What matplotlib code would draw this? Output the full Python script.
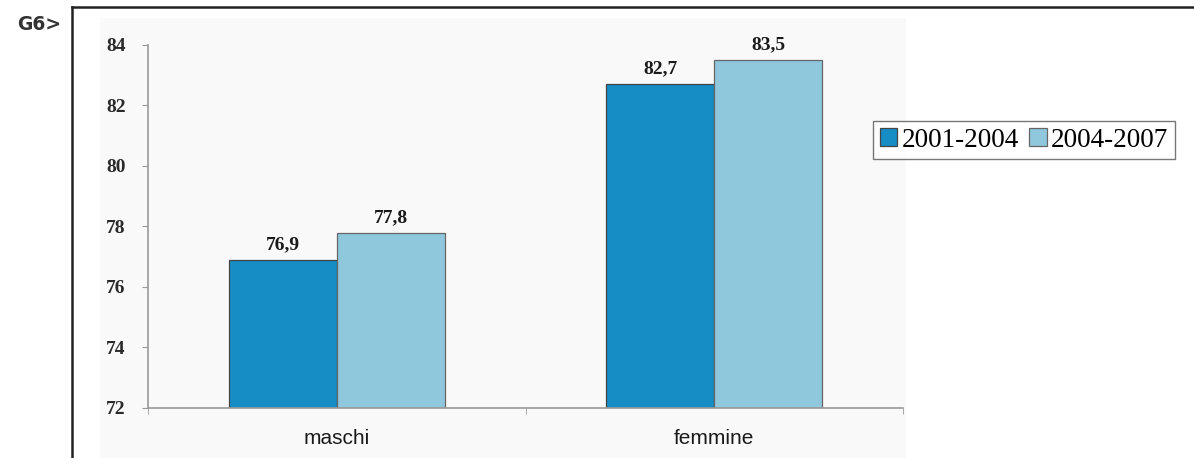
import matplotlib
matplotlib.use("Agg")
import matplotlib.pyplot as plt
import numpy as np
from matplotlib.lines import Line2D
from matplotlib.patches import Rectangle

# speranza di vita per sesso nei due periodi
categorie = ["maschi", "femmine"]
periodi = ["2001-2004", "2004-2007"]
val_2001_2004 = [76.9, 82.7]
val_2004_2007 = [77.8, 83.5]
y_ticks = [72, 74, 76, 78, 80, 82, 84]

col_scuro = "#168dc4"
col_chiaro = "#8fc7dc"
grigio = "#9a9a9a"

fig = plt.figure(figsize=(11.94, 4.58), dpi=100)

# sfondo grigio chiaro dietro al grafico
fig.add_artist(Rectangle((0.0838, 0.0), 0.675, 0.9607, transform=fig.transFigure,
                         facecolor="#f9f9f9", edgecolor="none", zorder=-5))
# cornice nera in alto e a sinistra
fig.add_artist(Line2D([0.0603, 1.0], [0.9847, 0.9847], transform=fig.transFigure,
                      color="#222222", lw=1.8))
fig.add_artist(Line2D([0.0603, 0.0603], [0.0, 0.9847], transform=fig.transFigure,
                      color="#222222", lw=1.8))
fig.text(0.014, 0.935, "G6>", fontsize=13.5, fontweight="bold", color="#333333",
         family="DejaVu Sans")

ax = fig.add_axes([0.1240, 0.1092, 0.6323, 0.7926])
ax.patch.set_alpha(0)

x = np.arange(len(categorie))
w = 0.286
b1 = ax.bar(x - w / 2, np.array(val_2001_2004) - 72, w, bottom=72, color=col_scuro,
            edgecolor="#444444", linewidth=0.9, label=periodi[0])
b2 = ax.bar(x + w / 2, np.array(val_2004_2007) - 72, w, bottom=72, color=col_chiaro,
            edgecolor="#666666", linewidth=0.9, label=periodi[1])

for xs, vals in ((x - w / 2, val_2001_2004), (x + w / 2, val_2004_2007)):
    for xi, v in zip(xs, vals):
        ax.text(xi, v + 0.22, f"{v:.1f}".replace(".", ","), ha="center", va="bottom",
                fontsize=14, fontweight="bold", family="Liberation Serif", color="#1a1a1a")

ax.set_xlim(-0.5, 1.5)
ax.set_ylim(72, 84)
ax.set_yticks(y_ticks)
ax.set_yticklabels([str(t) for t in y_ticks], family="Liberation Serif",
                   fontweight="bold", fontsize=14, color="#2a2a2a")
ax.set_xticks(x)
ax.set_xticklabels(categorie, family="Liberation Sans", fontsize=15, color="#1a1a1a")
ax.set_xticks([-0.5, 0.5, 1.5], minor=True)
ax.tick_params(axis="x", which="major", length=0, pad=15)
ax.tick_params(axis="x", which="minor", length=4, color=grigio)
ax.tick_params(axis="y", length=4, color=grigio, pad=12)

for s in ("top", "right"):
    ax.spines[s].set_visible(False)
for s in ("left", "bottom"):
    ax.spines[s].set_color(grigio)
    ax.spines[s].set_linewidth(1.2)

leg = fig.legend(handles=[b1, b2], labels=periodi, loc="upper left",
                 bbox_to_anchor=(0.731, 0.736), ncol=2, frameon=True, fancybox=False,
                 prop={"family": "Liberation Serif", "size": 19.5},
                 handlelength=0.65, handleheight=0.65, handletextpad=0.15,
                 columnspacing=0.4, borderpad=0.25, borderaxespad=0.0)
leg.get_frame().set_edgecolor("#555555")
leg.get_frame().set_linewidth(1.0)

fig.savefig("out.png", dpi=100)
